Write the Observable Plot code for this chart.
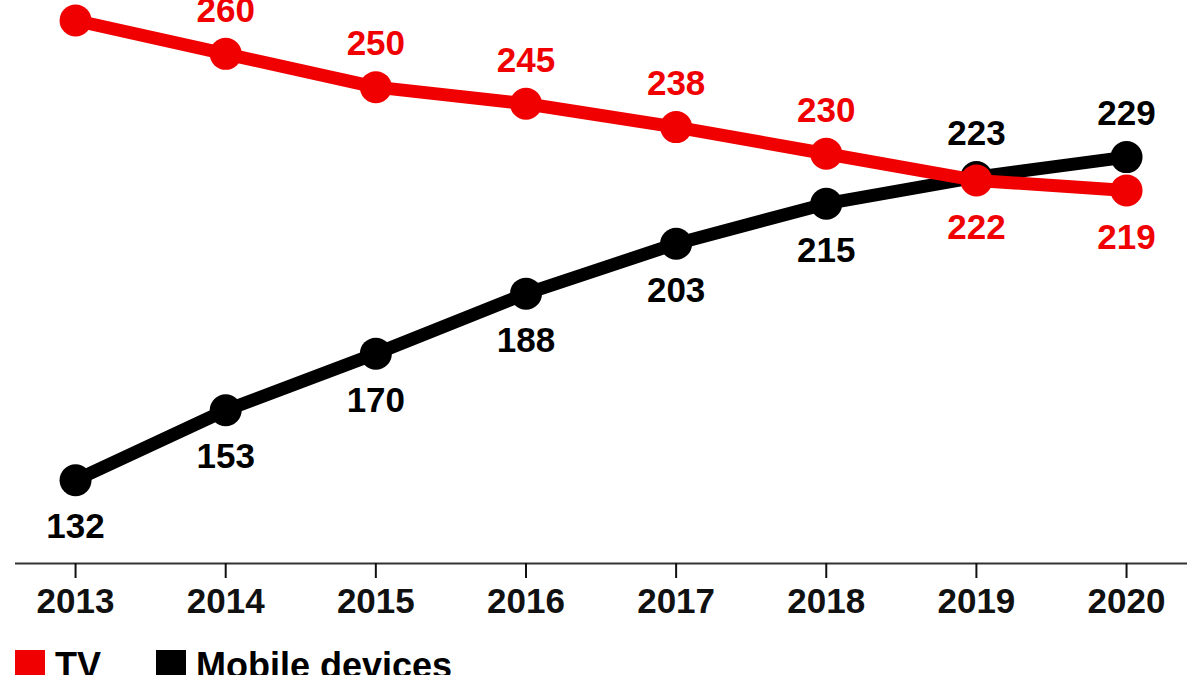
<!DOCTYPE html>
<html>
<head>
<meta charset="utf-8">
<script src="https://cdn.jsdelivr.net/npm/d3@7"></script>
<script src="https://cdn.jsdelivr.net/npm/@observablehq/plot@0.6"></script>
<style>
  html, body { margin: 0; padding: 0; background: #fff; overflow: hidden; }
  #chart svg { display: block; }
  .legend { display: flex; align-items: flex-start; margin-top: 8px; padding-left: 15px;
            font-family: "Liberation Sans", Arial, sans-serif; font-weight: bold; font-size: 36px; line-height: 1; }
  .legend .item { display: flex; align-items: flex-start; margin-right: 55px; }
  .legend .sw { width: 30px; height: 30px; margin-right: 10px; margin-top: 2px; }
</style>
</head>
<body>
<div id="chart"></div>
<div class="legend">
  <div class="item"><div class="sw" style="background:#f00000"></div><span>TV</span></div>
  <div class="item"><div class="sw" style="background:#000"></div><span>Mobile devices</span></div>
</div>
<script>
const years = [2013, 2014, 2015, 2016, 2017, 2018, 2019, 2020];
const tv = [270, 260, 250, 245, 238, 230, 222, 219];
const mobile = [132, 153, 170, 188, 203, 215, 223, 229];
const seriesNames = ["TV", "Mobile devices"];
const colors = {"TV": "#f00000", "Mobile devices": "#000000"};

const tvRows = years.map((y, i) => ({year: y, value: tv[i], series: "TV", above: tv[i] >= mobile[i]}));
const mobRows = years.map((y, i) => ({year: y, value: mobile[i], series: "Mobile devices", above: mobile[i] > tv[i]}));
const allRows = [...mobRows, ...tvRows];

const chart = Plot.plot({
  width: 1200,
  height: 640,
  marginTop: 20,
  marginBottom: 77,
  marginLeft: 15,
  marginRight: 13,
  x: {domain: [2012.6, 2020.406], label: null},
  y: {domain: [107, 270], axis: null},
  style: {fontFamily: "'Liberation Sans', Arial, sans-serif", fontWeight: "bold", background: "#fff"},
  marks: [
    Plot.ruleY([107], {stroke: "#333", strokeWidth: 2}),
    Plot.axisX({ticks: years, tickFormat: "d", tickSize: 15, tickPadding: 10, fontSize: 35, fontWeight: "bold", color: "#111", strokeWidth: 2, label: null}),
    Plot.line(mobRows, {x: "year", y: "value", stroke: colors["Mobile devices"], strokeWidth: 13, strokeLinejoin: "round", strokeLinecap: "round"}),
    Plot.dot(mobRows, {x: "year", y: "value", r: 16, fill: colors["Mobile devices"], stroke: null}),
    Plot.line(tvRows, {x: "year", y: "value", stroke: colors["TV"], strokeWidth: 13, strokeLinejoin: "round", strokeLinecap: "round"}),
    Plot.dot(tvRows, {x: "year", y: "value", r: 16, fill: colors["TV"], stroke: null}),
    Plot.text(allRows.filter(d => d.above), {x: "year", y: "value", text: d => String(d.value), dy: -43, fontSize: 35, fontWeight: "bold", fill: d => colors[d.series]}),
    Plot.text(allRows.filter(d => !d.above), {x: "year", y: "value", text: d => String(d.value), dy: 47, fontSize: 35, fontWeight: "bold", fill: d => colors[d.series]})
  ]
});
document.getElementById("chart").appendChild(chart);
</script>
</body>
</html>
